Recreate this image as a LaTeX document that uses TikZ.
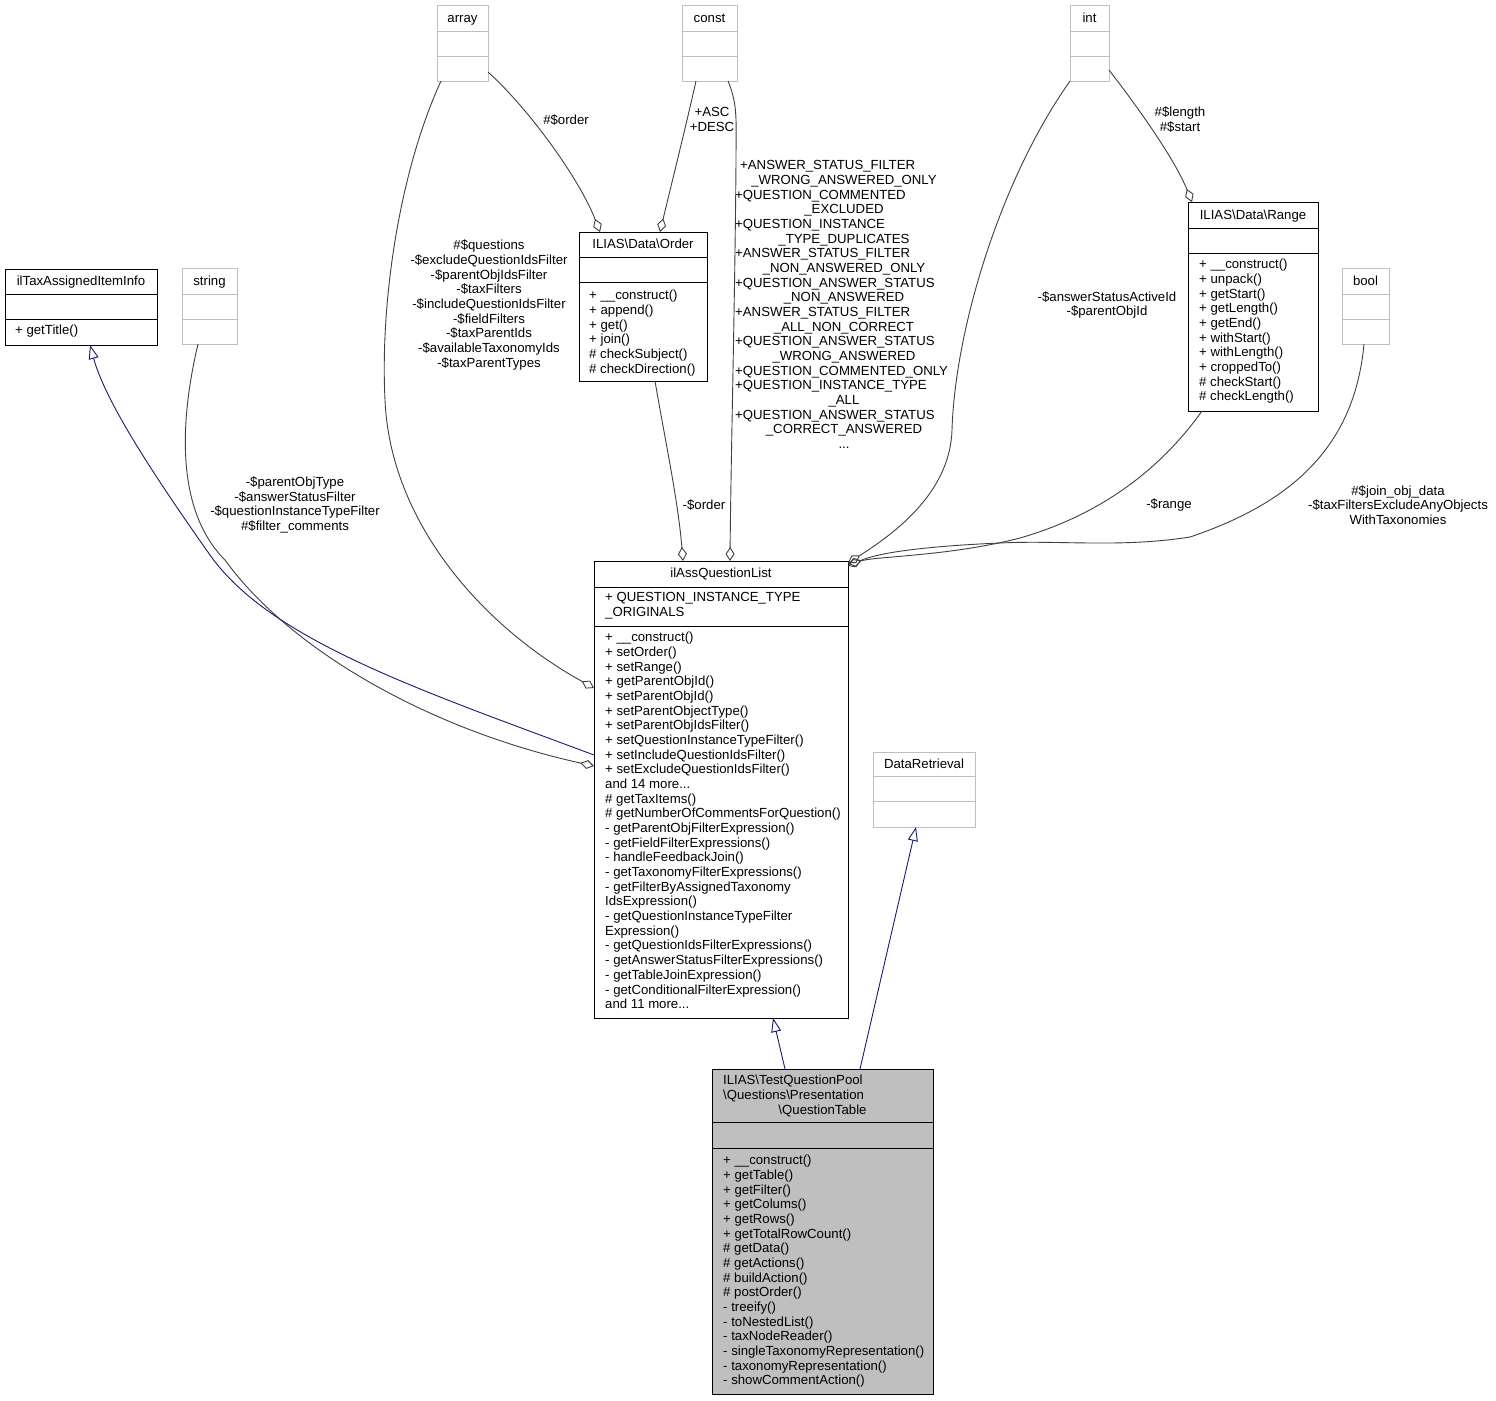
\documentclass[tikz,border=0pt]{standalone}
\usepackage{fontspec}
\setmainfont{Liberation Sans}
\usetikzlibrary{arrows.meta,calc}
\newcommand\dgf{\fontsize{13.2}{14.68}\selectfont}
\newcommand\dgdots{...}
\definecolor{lg}{HTML}{BFBFBF}
\definecolor{eg}{HTML}{404040}
\definecolor{nv}{HTML}{191970}
\definecolor{fg}{HTML}{BFBFBF}
\begin{document}
\begin{tikzpicture}[x=1pt,y=-1pt,
 cls/.style={draw=black, fill=white, line width=1pt, anchor=north west, inner sep=0pt, outer sep=0pt},
 ucls/.style={draw=lg, fill=white, line width=1pt, anchor=north west, inner sep=0pt, outer sep=0pt},
 div/.style={draw=black, line width=1pt},
 udiv/.style={draw=lg, line width=1pt},
 tt/.style={inner sep=0pt, font=\dgf, anchor=base},
 mm/.style={inner sep=0pt, font=\dgf, anchor=base west},
 lbl/.style={inner sep=0pt, font=\dgf, align=center},
 agg/.style={draw=eg, line width=0.9pt, -{Diamond[open, length=14pt, width=9pt, line width=0.9pt]}},
 inh/.style={draw=nv, line width=0.9pt, -{Triangle[open, length=14pt, width=10pt, line width=0.9pt]}},
]
\fill[white] (0,0) rectangle (1496,1400);
\useasboundingbox (0,0) rectangle (1496,1400);

% ---------- boxes ----------
\node[ucls, minimum width=51pt, minimum height=76pt] (array) at (437,5) {};
\node[ucls, minimum width=55pt, minimum height=76pt] (const) at (682,5) {};
\node[ucls, minimum width=39pt, minimum height=76pt] (int) at (1070,5) {};
\node[ucls, minimum width=47pt, minimum height=76pt] (bool) at (1342,268) {};
\node[ucls, minimum width=55pt, minimum height=76pt] (string) at (182,268) {};
\node[cls, minimum width=152pt, minimum height=76pt] (iltax) at (5,269) {};
\node[cls, minimum width=128pt, minimum height=149pt] (order) at (579,232) {};
\node[cls, minimum width=130pt, minimum height=209pt] (range) at (1188,202) {};
\node[cls, minimum width=254pt, minimum height=457pt] (ql) at (594,561) {};
\node[ucls, minimum width=102pt, minimum height=75pt] (dr) at (873,752) {};
\node[cls, fill=fg, minimum width=221pt, minimum height=325pt] (qt) at (712,1069) {};

% ---------- connectors ----------
\draw[agg] (441,0 |- array.south) .. controls (400,170) and (380,300) .. (385,400) .. controls (390,520) and (480,625) .. (ql.west |- 0,688);
\draw[agg] (array.east |- 0,72) .. controls (530,110) and (580,180) .. (600,0 |- order.north);
\draw[agg] (696,0 |- const.south) .. controls (685,130) and (670,190) .. (660,0 |- order.north);
\draw[agg] (728,0 |- const.south) .. controls (738,105) and (736,120) .. (736,160) .. controls (735,300) and (731,450) .. (730,0 |- ql.north);
\draw[agg] (655,0 |- order.south) .. controls (665,440) and (678,500) .. (683,0 |- ql.north);
\draw[agg] (int.south west) .. controls (1000,180) and (955,330) .. (952,430) .. controls (950,490) and (900,530) .. (ql.east |- 0,563);
\draw[agg] (int.east |- 0,70) .. controls (1140,110) and (1175,160) .. (1192,0 |- range.north);
\draw[agg] (1202,0 |- range.south) .. controls (1160,470) and (1100,515) .. (1020,538) .. controls (950,556) and (880,556) .. (ql.east |- 0,564);
\draw[agg] (1364,0 |- bool.south) .. controls (1355,440) and (1300,500) .. (1190,537) .. controls (1120,548) and (1060,540) .. (1000,543) .. controls (930,546) and (880,552) .. (ql.east |- 0,566);
\draw[agg] (198,0 |- string.south) .. controls (180,420) and (175,510) .. (225,560) .. controls (290,650) and (430,730) .. (ql.west |- 0,766);
\draw[inh] (ql.west |- 0,755) .. controls (420,690) and (270,640) .. (210,555) .. controls (150,470) and (105,400) .. (90,0 |- iltax.south);
\draw[inh] (785,0 |- qt.north) -- (773,0 |- ql.south);
\draw[inh] (860,0 |- qt.north) -- (916,0 |- dr.south);

% ---------- dividers ----------
\foreach \n/\a/\b in {array/31/56, const/31/56, int/31/56, bool/294/319, string/294/319, dr/776/801.5}{
  \draw[udiv] (\n.west |- 0,\a) -- (\n.east |- 0,\a);
  \draw[udiv] (\n.west |- 0,\b) -- (\n.east |- 0,\b);
}
\foreach \n/\a/\b in {iltax/294/319.5, order/257.5/282.5, range/228/253, ql/587/626, qt/1122/1148}{
  \draw[div] (\n.west |- 0,\a) -- (\n.east |- 0,\a);
  \draw[div] (\n.west |- 0,\b) -- (\n.east |- 0,\b);
}

% ---------- titles ----------
\node[tt] (tarray) at (462.5,22.7) {array};
\node[tt] (tconst) at (709.5,22.7) {const};
\node[tt] (tint) at (1089.5,22.7) {int};
\node[tt] (tbool) at (1365.5,285.7) {bool};
\node[tt] (tstring) at (209.5,285.7) {string};
\node[tt] (tiltax) at (81,285.7) {ilTaxAssignedItemInfo};
\node[tt] (torder) at (643,248.7) {ILIAS\textbackslash Data\textbackslash Order};
\node[tt] (trange) at (1253,219.7) {ILIAS\textbackslash Data\textbackslash Range};
\node[tt] (tql) at (721,577.7) {ilAssQuestionList};
\node[tt] (tdr) at (924,768.7) {DataRetrieval};
\node[mm] (tqt1) at (723,1084.7) {ILIAS\textbackslash TestQuestionPool};
\node[mm] (tqt2) at (723,1099.4) {\textbackslash Questions\textbackslash Presentation};
\node[tt] (tqt3) at (822.5,1114.1) {\textbackslash QuestionTable};

% ---------- members ----------
\node[mm] (mil) at (15,334.7) {+ getTitle()};
\foreach \s [count=\i from 0] in {{+ \_\_construct()}, {+ append()}, {+ get()}, {+ join()}, {\# checkSubject()}, {\# checkDirection()}}
  \node[mm] (mo\i) at (589,299.7+\i*14.68) {\s};
\foreach \s [count=\i from 0] in {{+ \_\_construct()}, {+ unpack()}, {+ getStart()}, {+ getLength()}, {+ getEnd()}, {+ withStart()}, {+ withLength()}, {+ croppedTo()}, {\# checkStart()}, {\# checkLength()}}
  \node[mm] (mr\i) at (1199,268.7+\i*14.68) {\s};
\node[mm] (qa1) at (605,601.7) {+ QUESTION\_INSTANCE\_TYPE};
\node[mm] (qa2) at (605,616.4) {\_ORIGINALS};
\foreach \s [count=\i from 0] in {{+ \_\_construct()}, {+ setOrder()}, {+ setRange()}, {+ getParentObjId()}, {+ setParentObjId()}, {+ setParentObjectType()}, {+ setParentObjIdsFilter()}, {+ setQuestionInstanceTypeFilter()}, {+ setIncludeQuestionIdsFilter()}, {+ setExcludeQuestionIdsFilter()}, {and 14 more\dgdots}, {\# getTaxItems()}, {\# getNumberOfCommentsForQuestion()}, {- getParentObjFilterExpression()}, {- getFieldFilterExpressions()}, {- handleFeedbackJoin()}, {- getTaxonomyFilterExpressions()}, {- getFilterByAssignedTaxonomy}, {IdsExpression()}, {- getQuestionInstanceTypeFilter}, {Expression()}, {- getQuestionIdsFilterExpressions()}, {- getAnswerStatusFilterExpressions()}, {- getTableJoinExpression()}, {- getConditionalFilterExpression()}, {and 11 more\dgdots}}
  \node[mm] (mq\i) at (605,641.7+\i*14.68) {\s};
\foreach \s [count=\i from 0] in {{+ \_\_construct()}, {+ getTable()}, {+ getFilter()}, {+ getColums()}, {+ getRows()}, {+ getTotalRowCount()}, {\# getData()}, {\# getActions()}, {\# buildAction()}, {\# postOrder()}, {- treeify()}, {- toNestedList()}, {- taxNodeReader()}, {- singleTaxonomyRepresentation()}, {- taxonomyRepresentation()}, {- showCommentAction()}}
  \node[mm] (mt\i) at (723,1164.7+\i*14.68) {\s};

% ---------- edge labels ----------
\node[lbl] (l1) at (566,120) {\#\$order};
\node[lbl] (l2) at (712,119.5) {+ASC\\+DESC};
% constants label of const -> ilAssQuestionList
\node[mm] (lc0) at (740,169.7) {+ANSWER\_STATUS\_FILTER};
\foreach \k/\s in {2/{+QUESTION\_COMMENTED}, 4/{+QUESTION\_INSTANCE}, 6/{+ANSWER\_STATUS\_FILTER}, 8/{+QUESTION\_ANSWER\_STATUS}, 10/{+ANSWER\_STATUS\_FILTER}, 12/{+QUESTION\_ANSWER\_STATUS}, 14/{+QUESTION\_COMMENTED\_ONLY}, 15/{+QUESTION\_INSTANCE\_TYPE}, 17/{+QUESTION\_ANSWER\_STATUS}}
  \node[mm] (lc\k) at (735,169.7+\k*14.68) {\s};
\foreach \k/\s in {1/{\_WRONG\_ANSWERED\_ONLY}, 3/{\_EXCLUDED}, 5/{\_TYPE\_DUPLICATES}, 7/{\_NON\_ANSWERED\_ONLY}, 9/{\_NON\_ANSWERED}, 11/{\_ALL\_NON\_CORRECT}, 13/{\_WRONG\_ANSWERED}, 16/{\_ALL}, 18/{\_CORRECT\_ANSWERED}, 19/{\dgdots}}
  \node[tt] (lc\k) at (844,169.7+\k*14.68) {\s};
\node[lbl] (l4) at (489,305) {\#\$questions\\-\$excludeQuestionIdsFilter\\-\$parentObjIdsFilter\\-\$taxFilters\\-\$includeQuestionIdsFilter\\-\$fieldFilters\\-\$taxParentIds\\-\$availableTaxonomyIds\\-\$taxParentTypes};
\node[lbl] (l5) at (704,505) {-\$order};
\node[lbl] (l6) at (1107,305) {-\$answerStatusActiveId\\-\$parentObjId};
\node[lbl] (l7) at (1180,119.5) {\#\$length\\\#\$start};
\node[lbl] (l8) at (1169,505) {-\$range};
\node[lbl] (l9) at (1398,505) {\#\$join\_obj\_data\\-\$taxFiltersExcludeAnyObjects\\WithTaxonomies};
\node[lbl] (l10) at (295,505) {-\$parentObjType\\-\$answerStatusFilter\\-\$questionInstanceTypeFilter\\\#\$filter\_comments};
\end{tikzpicture}
\end{document}
